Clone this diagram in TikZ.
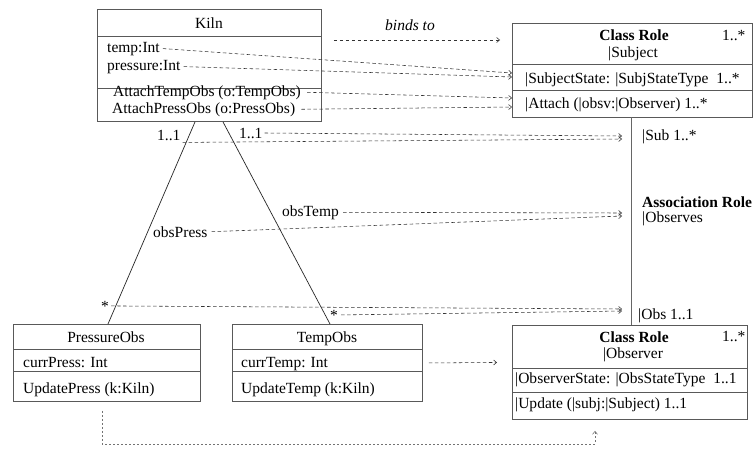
\documentclass[tikz,border=0pt]{standalone}
\usepackage{fontspec}
\setmainfont{Liberation Serif}
\usetikzlibrary{arrows.meta,calc}
\begin{document}
\begin{tikzpicture}[x=1pt,y=-1pt,
  box/.style={draw=black!65,line width=0.9pt,inner sep=0pt,anchor=north west},
  divl/.style={draw=black!65,line width=0.9pt},
  txt/.style={inner sep=0pt,font=\fontsize{15.5}{17}\selectfont,anchor=base west},
  ctxt/.style={txt,anchor=base},
  btxt/.style={ctxt,font=\fontsize{15.5}{17}\selectfont\bfseries},
  bltxt/.style={txt,font=\fontsize{15.5}{17}\selectfont\bfseries},
  itxt/.style={ctxt,font=\fontsize{15.5}{17}\selectfont\itshape},
  dl/.style={dash pattern=on 3.5pt off 2.5pt,line width=0.55pt,draw=black!80},
  dla/.style={dl,-{Straight Barb[length=3pt,width=5pt]}},
  dlb/.style={dash pattern=on 2pt off 2pt,line width=0.55pt,draw=black!55,-{Straight Barb[length=3pt,width=5pt]}},
  solidl/.style={draw=black!85,line width=0.7pt},
  assocl/.style={draw=black!60,line width=1pt},
]
\useasboundingbox (0,0) rectangle (754,448);
\fill[white] (0,0) rectangle (754,448);

% ---------- boxes ----------
\node[box,minimum width=224pt,minimum height=112pt] (kiln) at (97,9) {};
\draw[divl] (97,36) -- (321,36);
\draw[divl] (97,88) -- (321,88);

\node[box,minimum width=240pt,minimum height=94pt] (subj) at (512,23) {};
\draw[divl] (512,64) -- (752,64);
\draw[divl] (512,90) -- (752,90);

\node[box,minimum width=187pt,minimum height=77pt] (pobs) at (13,324) {};
\draw[divl] (13,349) -- (200,349);
\draw[divl] (13,371) -- (200,371);

\node[box,minimum width=190pt,minimum height=77pt] (tobs) at (232,324) {};
\draw[divl] (232,349) -- (422,349);
\draw[divl] (232,371) -- (422,371);

\node[box,minimum width=235pt,minimum height=94pt] (oobs) at (512,325) {};
\draw[divl] (512,368) -- (747,368);
\draw[divl] (512,392) -- (747,392);

% ---------- texts ----------
\node[ctxt] (kilnT) at (209,28) {Kiln};
\node[txt] (tempint) at (107,52) {temp:Int};
\node[txt] (pressint) at (107,70) {pressure:Int};
\node[txt] (atTemp) at (113,96) {AttachTempObs (o:TempObs)};
\node[txt] (atPress) at (112,113) {AttachPressObs (o:PressObs)};

\node[btxt] (sCR) at (634,40) {Class Role};
\node[txt] (sMult) at (722,40) {1..*};
\node[ctxt] (sSub) at (633,57) {|Subject};
\node[txt] (sState) at (525,83) {|SubjectState: |SubjStateType\hspace{4pt} 1..*};
\node[txt] (sAttach) at (525,108) {|Attach (|obsv:|Observer) 1..*};

\node[txt] (subL) at (642,140) {|Sub 1..*};
\node[bltxt] (arT) at (642,207) {Association Role};
\node[txt] (arO) at (642,222) {|Observes};
\node[txt] (obsL) at (638,319) {|Obs 1..1};

\node[btxt] (oCR) at (634,342) {Class Role};
\node[txt] (oMult) at (722,341) {1..*};
\node[ctxt] (oObs) at (633,358) {|Observer};
\node[txt] (oState) at (515,383) {|ObserverState: |ObsStateType\hspace{4pt} 1..1};
\node[txt] (oUpd) at (515,408) {|Update (|subj:|Subject) 1..1};

\node[ctxt] (pT) at (106,342) {PressureObs};
\node[txt] (pA) at (23,367) {currPress: Int};
\node[txt] (pU) at (23,393) {UpdatePress (k:Kiln)};

\node[ctxt] (tT) at (327,342) {TempObs};
\node[txt] (tA) at (241,367) {currTemp: Int};
\node[txt] (tU) at (241,393) {UpdateTemp (k:Kiln)};

\node[itxt] (bind) at (410,30) {binds to};
\node[txt] (l11a) at (157,140) {1..1};
\node[txt] (l11b) at (239,138) {1..1};
\node[txt] (obsTemp) at (282,216) {obsTemp};
\node[txt] (obsPress) at (153,237) {obsPress};
\node[ctxt] (starA) at (105,311) {*};
\node[ctxt] (starB) at (334,320) {*};

% ---------- association role line ----------
\coordinate (aTop) at (631,117);
\coordinate (aBot) at (631,325);
\draw[assocl] (aTop) -- (aBot);

% ---------- association lines of Kiln ----------
\draw[solidl] ($(kiln.south west)+(98,0)$) -- ($(pobs.north west)+(95,0)$);
\draw[solidl] ($(kiln.south west)+(126,0)$) -- ($(tobs.north west)+(98,0)$);

% ---------- binding arrows ----------
\draw[dla] ($(kiln.north east)+(12,31)$) -- ($(subj.north west)+(-12,17)$);
\draw[dla] ([xshift=3pt]tempint.east) -- ($(subj.north west)+(0,50)$);
\draw[dla] ([xshift=3pt]pressint.east) -- ($(subj.north west)+(0,54)$);
\draw[dla] ([xshift=6pt]atTemp.east) -- ($(subj.north west)+(0,75)$);
\draw[dla] ([xshift=6pt]atPress.east) -- ($(subj.north west)+(0,84)$);

\draw[dla] ($(l11a.south east)+(2,2)$) -- ($(aTop)+(-9,22)$);
\draw[dla] ([xshift=2pt]l11b.east) -- ($(aTop)+(-9,19)$);
\draw[dla] ([xshift=4pt]obsTemp.east) -- ($(aTop)+(-9,96)$);
\draw[dla] ([xshift=4pt]obsPress.east) -- ($(aTop)+(-9,99)$);
\draw[dla] ([xshift=2pt]starA.east) -- ($(aBot)+(-9,-16)$);
\draw[dla] ([xshift=3pt]starB.east) -- ($(aBot)+(-9,-14)$);

\draw[dla] ([xshift=6pt]tobs.east) -- ($(oobs.west)+(-15,-10)$);

% ---------- bottom binding ----------
\coordinate (b1) at ($(pobs.south west)+(89,9)$);
\coordinate (b4) at ($(oobs.south west)+(83,11)$);
\draw[dlb] (b1) -- ($(b1)+(0,33)$) -| (b4);
\end{tikzpicture}
\end{document}
